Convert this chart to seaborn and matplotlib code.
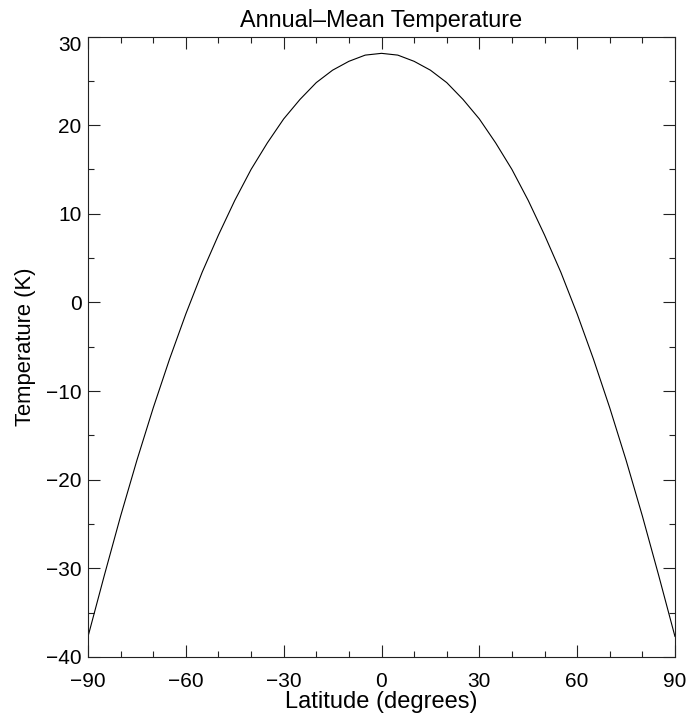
import matplotlib
matplotlib.use("Agg")
import matplotlib.pyplot as plt
from matplotlib.ticker import MultipleLocator
from matplotlib.transforms import ScaledTranslation
import seaborn as sns
import pandas as pd

latitude = [-90, -85, -80, -75, -70, -65, -60, -55, -50, -45, -40, -35, -30, -25, -20, -15, -10, -5,
            0, 5, 10, 15, 20, 25, 30, 35, 40, 45, 50, 55, 60, 65, 70, 75, 80, 85, 90]
temperature = [-37.7, -30.8, -24.1, -17.8, -11.9, -6.4, -1.3, 3.4, 7.6, 11.5, 15.0, 18.0, 20.7, 22.9,
               24.8, 26.2, 27.2, 27.9, 28.1, 27.9, 27.2, 26.2, 24.8, 22.9, 20.7, 18.0, 15.0, 11.5,
               7.6, 3.4, -1.3, -6.4, -11.9, -17.8, -24.1, -30.8, -37.7]
x_ticks = [-90, -60, -30, 0, 30, 60, 90]
y_ticks = [-40, -30, -20, -10, 0, 10, 20, 30]

df = pd.DataFrame({"Latitude": latitude, "Temperature": temperature})

sns.set_theme(style="ticks")
plt.rcParams["font.family"] = ["Liberation Sans", "DejaVu Sans"]

fig = plt.figure(figsize=(6.87, 7.17), dpi=100)
ax = fig.add_axes([88 / 687, 1 - 657 / 717, (675 - 88) / 687, (657 - 36.5) / 717])

sns.lineplot(data=df, x="Latitude", y="Temperature", ax=ax, color="black", linewidth=0.8)

ax.set_xlim(-90, 90)
ax.set_ylim(-40, 30)
ax.set_xticks(x_ticks)
ax.set_yticks(y_ticks)
ax.xaxis.set_minor_locator(MultipleLocator(10))
ax.yaxis.set_minor_locator(MultipleLocator(5))

for s in ax.spines.values():
    s.set_visible(True)
    s.set_color("#222222")
    s.set_linewidth(0.8)

ax.tick_params(which="both", direction="in", top=True, right=True, color="#222222",
               width=0.8, labelsize=15, labelcolor="black")
ax.tick_params(which="major", length=8.6)
ax.tick_params(which="minor", length=4.3)
ax.tick_params(axis="x", which="major", pad=10.8)
ax.tick_params(axis="y", which="major", pad=4.6)

ax.set_xlabel("Latitude (degrees)", fontsize=17, labelpad=0, color="black")
ax.set_ylabel("Temperature (K)", fontsize=15.8, labelpad=7.3, color="black")
ax.set_title("Annual\u2013Mean Temperature", fontsize=16.8, pad=6.8, color="black")

fig.canvas.draw()
for lab in ax.get_yticklabels():
    if lab.get_text() in ("30",):
        lab.set_transform(lab.get_transform() + ScaledTranslation(0, -7 / 100, fig.dpi_scale_trans))

fig.savefig("out.png", dpi=100, facecolor="white")
